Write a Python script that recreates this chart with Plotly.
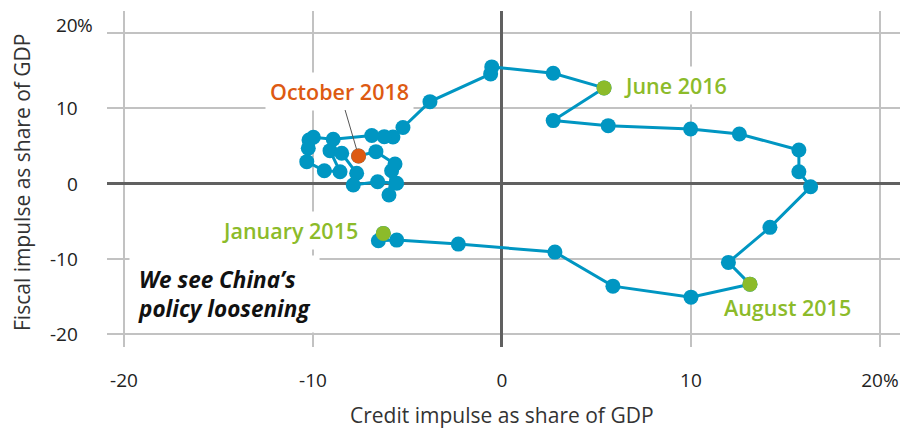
import plotly.graph_objects as go

# Monthly path, January 2015 -> October 2018 (credit impulse, fiscal impulse; % of GDP)
months = [
    "Jan 2015", "Feb 2015", "Mar 2015", "Apr 2015", "May 2015", "Jun 2015", "Jul 2015", "Aug 2015",
    "Sep 2015", "Oct 2015", "Nov 2015", "Dec 2015", "Jan 2016", "Feb 2016", "Mar 2016", "Apr 2016",
    "May 2016", "Jun 2016", "Jul 2016", "Aug 2016", "Sep 2016", "Oct 2016", "Nov 2016", "Dec 2016",
    "Jan 2017", "Feb 2017", "Mar 2017", "Apr 2017", "May 2017", "Jun 2017", "Jul 2017", "Aug 2017",
    "Sep 2017", "Oct 2017", "Nov 2017", "Dec 2017", "Jan 2018", "Feb 2018", "Mar 2018", "Apr 2018",
    "May 2018", "Jun 2018", "Jul 2018", "Oct 2018",
]
credit_impulse = [
    -6.28, -6.54, -5.57, -2.31, 2.80, 5.87, 10.0, 13.12,
    11.98, 14.18, 16.33, 15.71, 15.71, 12.56, 9.98, 5.62,
    2.71, 5.40, 2.71, -0.54, -0.60, -3.81, -5.24, -5.77,
    -6.23, -6.89, -8.93, -9.98, -10.21, -10.25, -10.33, -9.40,
    -8.57, -9.10, -8.48, -7.69, -7.87, -6.58, -5.57, -5.98,
    -5.84, -5.66, -6.67, -7.59,
]
fiscal_impulse = [
    -6.62, -7.60, -7.51, -8.04, -9.10, -13.62, -15.08, -13.36,
    -10.47, -5.82, -0.43, 1.57, 4.45, 6.58, 7.24, 7.68,
    8.35, 12.69, 14.64, 15.48, 14.55, 10.87, 7.44, 6.18,
    6.22, 6.38, 5.87, 6.14, 5.78, 4.68, 2.90, 1.70,
    1.57, 4.36, 4.01, 1.36, -0.20, 0.24, 0.03, -1.53,
    1.70, 2.59, 4.23, 3.65,
]

highlights = ["Jan 2015", "Aug 2015", "Jun 2016", "Oct 2018"]
highlight_labels = ["January 2015", "August 2015", "June 2016", "October 2018"]
highlight_colors = ["#8cbb2a", "#8cbb2a", "#8cbb2a", "#dd5a12"]

tick_vals = [-20, -10, 0, 10, 20]
x_tick_text = ["-20", "-10", "0", "10", "20%"]
y_tick_text = ["-20", "-10", "0", "10", "20"]

BLUE = "#0096c2"
FONT = "Open Sans"
L, R, T, B = 107, 2, 11, 82
PW, PH = 902 - L - R, 429 - T - B

fig = go.Figure()
fig.add_trace(go.Scatter(
    x=credit_impulse, y=fiscal_impulse, mode="lines+markers",
    line=dict(color=BLUE, width=3),
    marker=dict(color=BLUE, size=15),
    hoverinfo="skip", showlegend=False,
))
hx = [credit_impulse[months.index(m)] for m in highlights]
hy = [fiscal_impulse[months.index(m)] for m in highlights]
fig.add_trace(go.Scatter(
    x=hx, y=hy, mode="markers",
    marker=dict(color=highlight_colors, size=15),
    hoverinfo="skip", showlegend=False,
))

label_font = dict(family=FONT, size=21.5, weight=600)
# January 2015
fig.add_annotation(x=hx[0], y=hy[0], text=highlight_labels[0], showarrow=False,
                   xanchor="right", yanchor="middle", xshift=-20, yshift=3,
                   font=dict(color=highlight_colors[0], **label_font),
                   bgcolor="white", borderpad=4)
# August 2015
fig.add_annotation(x=hx[1], y=hy[1], text=highlight_labels[1], showarrow=False,
                   xanchor="center", yanchor="middle", xshift=38, yshift=-23,
                   font=dict(color=highlight_colors[1], **label_font))
# June 2016
fig.add_annotation(x=hx[2], y=hy[2], text=highlight_labels[2], showarrow=False,
                   xanchor="left", yanchor="middle", xshift=15, yshift=2,
                   font=dict(color=highlight_colors[2], **label_font),
                   bgcolor="white", borderpad=4)
# October 2018 with leader line
fig.add_annotation(x=hx[3], y=hy[3], text=highlight_labels[3], showarrow=True,
                   ax=-19, ay=-65, arrowhead=0, arrowwidth=1, arrowcolor="#555555",
                   standoff=7,
                   font=dict(color=highlight_colors[3], **label_font),
                   bgcolor="white", borderpad=4)

# Call-out box
fig.add_annotation(xref="paper", yref="paper", x=(129 - L) / PW, y=(429 - B - 294) / PH,
                   text="<i>We see China’s<br>policy loosening</i>", showarrow=False,
                   xanchor="left", yanchor="middle", align="left",
                   font=dict(family=FONT, size=22.5, weight=700, color="#111111"),
                   bgcolor="white", borderpad=8)

# Y tick labels (numbers right-aligned, % sign hanging)
for v, t in zip(tick_vals, y_tick_text):
    fig.add_annotation(xref="paper", yref="y", x=(79 - L) / PW, y=v, text=t,
                       showarrow=False, xanchor="right", yanchor="middle",
                       yshift=8 if v == 20 else 0, borderpad=0,
                       font=dict(family=FONT, size=19, color="#222222"))
fig.add_annotation(xref="paper", yref="y", x=(79 - L) / PW, y=20, text="%",
                   showarrow=False, xanchor="left", yanchor="middle", yshift=8, xshift=-3,
                   borderpad=0, font=dict(family=FONT, size=19, color="#222222"))

# Axis titles
fig.add_annotation(xref="paper", yref="paper", x=(502 - L) / PW, y=(429 - B - 415) / PH,
                   text="Credit impulse as share of GDP", showarrow=False,
                   xanchor="center", yanchor="middle",
                   font=dict(family=FONT, size=21, color="#333333"))
fig.add_annotation(xref="paper", yref="paper", x=(22 - L) / PW, y=(429 - B - 183) / PH,
                   text="Fiscal impulse as share of GDP", showarrow=False, textangle=-90,
                   xanchor="center", yanchor="middle",
                   font=dict(family=FONT, size=21, color="#333333"))

fig.update_xaxes(range=[-20.9, 21.06], tickvals=tick_vals, ticktext=x_tick_text,
                 showgrid=True, gridcolor="#c2c2c2", gridwidth=1.6,
                 zeroline=True, zerolinecolor="#606060", zerolinewidth=3,
                 showline=False, ticks="", ticklabelstandoff=20, automargin=False,
                 tickfont=dict(family=FONT, size=19, color="#222222"))
fig.update_yaxes(range=[-21.7, 22.9], tickvals=tick_vals,
                 showgrid=True, gridcolor="#c2c2c2", gridwidth=1.6,
                 zeroline=True, zerolinecolor="#606060", zerolinewidth=3,
                 showline=False, ticks="", showticklabels=False, automargin=False)

fig.update_layout(
    width=902, height=429,
    margin=dict(l=L, r=R, t=T, b=B, autoexpand=False),
    plot_bgcolor="white", paper_bgcolor="white",
    font=dict(family=FONT),
)

fig.write_html(
    "out.html",
    config={"displayModeBar": False},
    post_script="document.body.style.margin='0';document.body.style.overflow='hidden';",
)
